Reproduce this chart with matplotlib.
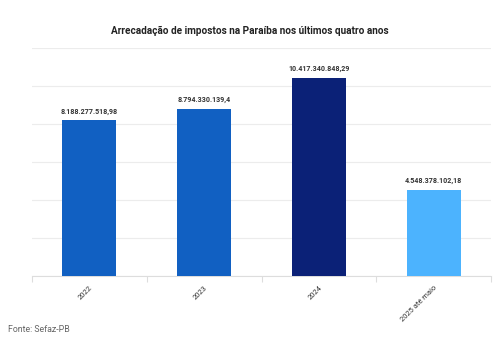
import matplotlib.pyplot as plt
import numpy as np

plt.rcParams['font.family'] = ['Roboto', 'DejaVu Sans']

anos = ['2022', '2023', '2024', '2025 até maio']
valores = [8188277518.98, 8794330139.4, 10417340848.29, 4548378102.18]
rotulos = ['8.188.277.518,98', '8.794.330.139,4', '10.417.340.848,29', '4.548.378.102,18']
cores = ['#1160c2', '#1160c2', '#0b2177', '#4cb3fe']

fig = plt.figure(figsize=(5, 3.42), dpi=100)
ax = fig.add_axes([0.064, 0.193, 0.918, 0.667])

x = np.arange(len(anos))
ax.bar(x, valores, width=0.47, color=cores, zorder=3)

for xi, v, r in zip(x, valores, rotulos):
    ax.text(xi, v + 2.5e8, r, ha='center', va='bottom', fontsize=5.1,
            fontweight='bold', color='#333333')

ax.set_xlim(-0.5, 3.5)
ax.set_ylim(0, 12e9)
ax.set_yticks(np.arange(0, 12.1e9, 2e9))
ax.yaxis.grid(True, color='#ececec', linewidth=0.8, zorder=0)
ax.tick_params(axis='y', length=0, labelleft=False)

ax.set_xticks(x)
ax.set_xticklabels(anos, rotation=45, ha='right', rotation_mode='anchor',
                   fontsize=5.4, color='#333333')
ax.tick_params(axis='x', length=0, pad=6)
ax.set_xticks(np.arange(-0.5, 4, 1), minor=True)
ax.tick_params(axis='x', which='minor', length=4, color='#dddddd', width=0.8)

for s in ['top', 'right', 'left']:
    ax.spines[s].set_visible(False)
ax.spines['bottom'].set_color('#dddddd')
ax.spines['bottom'].set_linewidth(0.8)

fig.text(0.5, 0.91, 'Arrecadação de impostos na Paraíba nos últimos quatro anos',
         ha='center', va='center', fontsize=7.2, fontweight='bold', color='#222222')
fig.text(0.016, 0.038, 'Fonte: Sefaz-PB', ha='left', va='center', fontsize=6.3,
         color='#666666')

plt.savefig('out.png', dpi=100)
